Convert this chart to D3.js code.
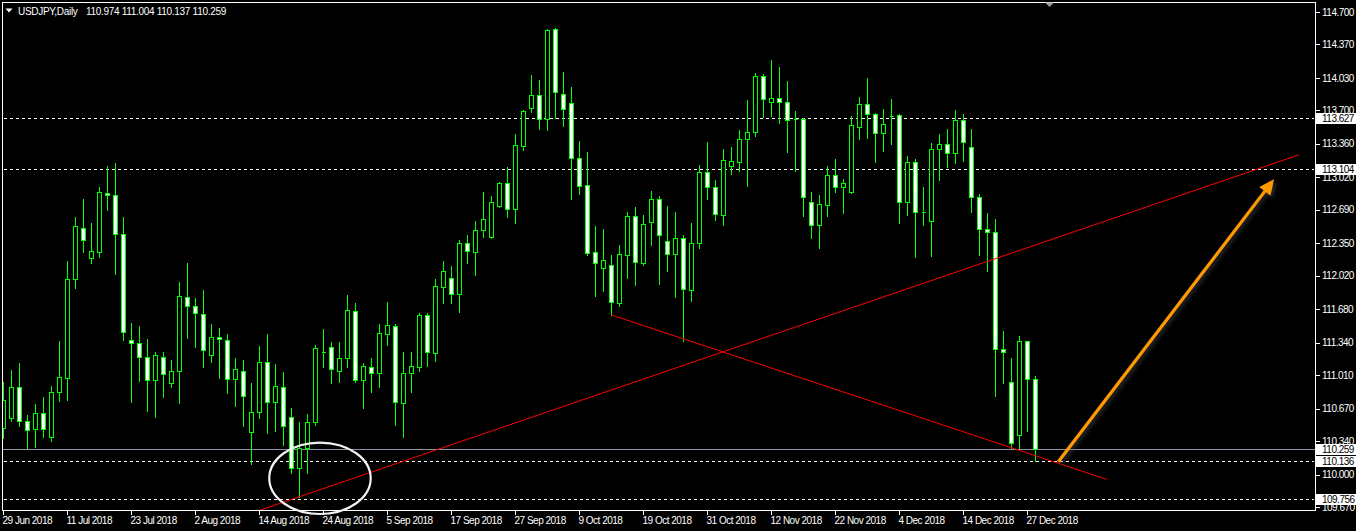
<!DOCTYPE html>
<html>
<head>
<meta charset="utf-8">
<script src="https://cdn.jsdelivr.net/npm/d3@7"></script>
<style>
  html, body { margin: 0; padding: 0; background: #000; }
  svg { display: block; }
  text { font-family: "Liberation Sans", Arial, sans-serif; font-size: 10px; letter-spacing: -0.5px; }
  text.hdr { letter-spacing: -0.3px; }
</style>
</head>
<body>
<svg id="chart" width="1356" height="531"></svg>
<script>
// ---------------- DATA ----------------
const symbol = "USDJPY,Daily";
const lastQuote = ["110.974", "111.004", "110.137", "110.259"];

const opens = [
  110.473,110.574,110.889,110.544,110.463,110.625,110.381,110.838,110.981,111.987,
  112.505,112.200,112.261,112.861,112.840,112.444,111.367,111.336,111.194,110.960,
  111.194,110.930,111.052,111.804,111.712,111.631,111.214,111.397,111.367,110.971,
  111.052,110.432,110.635,111.143,110.737,110.889,110.584,110.066,110.270,110.534,
  111.245,111.296,111.052,111.184,111.662,110.960,111.093,111.032,111.428,111.509,
  110.727,111.032,111.093,111.621,111.235,111.906,111.997,111.834,112.353,112.261,
  112.485,112.414,112.729,112.962,112.698,113.338,113.725,113.857,113.613,114.527,
  113.867,113.775,113.216,112.942,112.261,112.099,112.129,111.743,112.231,112.627,
  112.149,112.566,112.800,112.373,112.241,112.403,111.875,112.353,113.074,112.922,
  112.637,113.135,113.176,113.409,113.481,114.050,113.786,113.826,113.786,113.608,
  113.613,112.769,112.536,112.739,113.044,112.922,112.871,113.531,113.765,113.663,
  113.471,113.643,113.653,112.769,113.176,112.667,112.576,113.308,113.359,113.267,
  113.603,113.328,112.820,112.495,112.464,111.275,110.940,110.402,111.357,110.974
];
const highs = [
  110.940,111.062,111.133,110.605,110.717,110.788,110.900,111.357,112.170,112.617,
  112.800,112.556,112.922,113.135,113.166,112.617,111.540,111.509,111.377,111.245,
  111.245,111.164,111.956,112.149,111.794,111.875,111.530,111.489,111.428,111.184,
  111.164,110.930,111.306,111.428,111.123,111.042,110.676,110.534,110.615,111.316,
  111.479,111.347,111.347,111.824,111.743,111.133,111.184,111.530,111.753,111.530,
  111.245,111.245,111.641,111.641,111.987,112.170,112.119,112.383,112.434,112.576,
  112.871,112.830,112.973,113.125,113.460,113.704,114.060,114.009,114.527,114.537,
  114.090,113.938,113.389,113.277,112.525,112.495,112.231,112.332,112.667,112.718,
  112.637,112.881,112.830,112.729,112.667,112.434,112.556,113.145,113.379,112.993,
  113.308,113.328,113.501,113.806,114.080,114.070,114.212,114.141,113.999,113.694,
  113.623,112.871,112.840,113.135,113.206,113.003,113.643,113.836,114.029,113.674,
  113.714,113.816,113.660,113.237,113.206,112.922,113.369,113.460,113.511,113.704,
  113.664,113.511,112.851,112.657,112.596,111.458,111.184,111.408,111.357,111.004
];
const lows = [
  110.371,110.544,110.493,110.270,110.280,110.381,110.341,110.747,110.757,111.895,
  112.261,112.149,112.210,112.688,112.038,111.367,110.737,110.950,110.645,110.584,
  110.788,110.889,110.727,111.387,111.296,111.093,111.143,110.981,110.828,110.696,
  110.493,110.107,110.574,110.422,110.442,110.300,110.015,109.772,110.015,110.503,
  111.093,110.930,110.940,111.093,110.940,110.676,110.838,110.889,111.316,110.503,
  110.381,110.838,111.052,111.103,111.154,111.743,111.743,111.652,112.149,112.027,
  112.414,112.403,112.718,112.617,112.556,113.298,113.684,113.511,113.501,113.623,
  113.542,112.800,112.851,112.231,111.814,111.865,111.621,111.712,111.997,111.926,
  112.129,112.332,111.936,112.068,111.804,111.357,111.763,112.302,112.800,112.586,
  112.536,113.054,113.084,112.932,113.440,113.633,113.643,113.572,113.277,113.084,
  112.627,112.403,112.302,112.627,112.871,112.657,112.861,113.409,113.420,113.176,
  113.287,113.359,112.556,112.637,112.210,112.536,112.220,112.993,113.125,113.166,
  113.186,112.667,112.231,112.068,110.798,110.930,110.270,110.270,110.442,110.137
];
const closes = [
  110.757,110.889,110.544,110.452,110.625,110.463,110.838,110.991,111.987,112.525,
  112.383,112.271,112.871,112.840,112.444,111.448,111.336,111.194,110.960,111.214,
  111.021,111.052,111.814,111.712,111.641,111.265,111.397,111.377,110.971,111.072,
  110.798,110.635,111.143,110.737,110.900,110.493,110.066,110.270,110.534,111.286,
  111.250,111.072,111.184,111.672,110.960,111.103,111.032,111.438,111.519,110.737,
  111.032,111.103,111.621,111.245,111.916,112.068,111.834,112.353,112.271,112.485,
  112.596,112.769,112.962,112.698,113.349,113.694,113.857,113.613,114.517,113.887,
  113.714,113.216,112.932,112.251,112.149,112.180,111.753,112.241,112.627,112.160,
  112.546,112.800,112.434,112.241,112.403,111.885,112.353,113.074,112.922,112.647,
  113.196,113.186,113.409,113.481,114.050,113.816,113.826,113.786,113.603,113.612,
  112.820,112.536,112.749,113.044,112.922,112.962,113.552,113.765,113.663,113.471,
  113.562,113.645,112.769,113.176,112.667,112.669,113.308,113.359,113.267,113.603,
  113.379,112.820,112.495,112.464,111.275,111.245,110.320,111.357,110.971,110.259
];

// date axis labels (every 8th bar)
const dateTickIndex = [0,8,16,24,32,40,48,56,64,72,80,88,96,104,112,120,128];
const dateTickLabels = ["29 Jun 2018","11 Jul 2018","23 Jul 2018","2 Aug 2018","14 Aug 2018",
  "24 Aug 2018","5 Sep 2018","17 Sep 2018","27 Sep 2018","9 Oct 2018","19 Oct 2018",
  "31 Oct 2018","12 Nov 2018","22 Nov 2018","4 Dec 2018","14 Dec 2018","27 Dec 2018"];

// price axis labels
const priceTicks = [114.700,114.370,114.030,113.700,113.360,113.020,112.690,112.350,
  112.020,111.680,111.340,111.010,110.670,110.340,110.000,109.670];

// horizontal levels
const levelPrices = [113.627, 113.104, 110.136, 109.756];
const bidPrice = 110.259;

// annotations (bar index, price)
const trendUp = [[30, 109.580], [161.94, 113.249]];
const trendDown = [[76, 111.621], [137.9, 109.951]];
const circleMark = { idx: 39.56, price: 109.962, rBars: 6.34, rPrice: 0.363 };
const arrowMark = [[131.85, 110.130], [158.81, 113.000]];

// ---------------- DRAW ----------------
const svg = d3.select("#chart");
const W = 1356, H = 531;
const frame = { left: 2.5, top: 2.5, right: 1315.5, bottom: 510.5 };

const x = d3.scaleLinear().domain([0, 129]).range([3.5, 1035.5]);
const y = d3.scaleLinear().domain([109.67, 114.70]).range([507, 12]);

const GREEN = "#00ff00";

svg.append("rect").attr("width", W).attr("height", H).attr("fill", "#000");

const defs = svg.append("defs");
defs.append("clipPath").attr("id", "plotClip")
  .append("rect")
  .attr("x", frame.left).attr("y", frame.top)
  .attr("width", frame.right - frame.left).attr("height", frame.bottom - frame.top);
const glow = defs.append("filter").attr("id", "glow")
  .attr("x", "-20%").attr("y", "-20%").attr("width", "140%").attr("height", "140%");
glow.append("feDropShadow").attr("dx", 2).attr("dy", 2).attr("stdDeviation", 2)
  .attr("flood-color", "#555").attr("flood-opacity", 0.6);
const soft = defs.append("filter").attr("id", "soft");
soft.append("feGaussianBlur").attr("stdDeviation", 0.35);

const plot = svg.append("g").attr("clip-path", "url(#plotClip)");

// level lines
const snap = v => Math.round(v) + 0.5;
plot.append("line")
  .attr("x1", frame.left).attr("x2", frame.right)
  .attr("y1", snap(y(bidPrice))).attr("y2", snap(y(bidPrice)))
  .attr("stroke", "#8a96a3").attr("stroke-width", 1).attr("shape-rendering", "crispEdges");
plot.selectAll("line.level").data(levelPrices).join("line")
  .attr("class", "level")
  .attr("x1", frame.left + 1).attr("x2", frame.right - 2)
  .attr("y1", d => snap(y(d))).attr("y2", d => snap(y(d)))
  .attr("stroke", "#fff").attr("stroke-width", 1)
  .attr("stroke-dasharray", "3,3").attr("shape-rendering", "crispEdges");

// candles
const bars = d3.range(opens.length).map(i => ({
  i, o: opens[i], h: highs[i], l: lows[i], c: closes[i]
}));
const cg = plot.append("g").attr("shape-rendering", "crispEdges");
cg.selectAll("line.wick").data(bars).join("line")
  .attr("class", "wick")
  .attr("x1", d => x(d.i)).attr("x2", d => x(d.i))
  .attr("y1", d => Math.round(y(d.h))).attr("y2", d => Math.round(y(d.l)) + 1)
  .attr("stroke", GREEN).attr("stroke-width", 1);
cg.selectAll("path.body").data(bars).join("path")
  .attr("class", "body")
  .attr("d", d => {
    const x0 = x(d.i) - 2, x1 = x(d.i) + 2;
    const yt = snap(y(Math.max(d.o, d.c)));
    const yb = snap(y(Math.min(d.o, d.c)));
    return `M${x0},${yt}H${x1}V${yb}H${x0}Z`;
  })
  .attr("fill", d => d.c >= d.o ? "#000" : "#fff")
  .attr("stroke", GREEN).attr("stroke-width", 1);

// trend lines
const line = d3.line().x(d => x(d[0])).y(d => y(d[1]));
plot.append("path").attr("d", line(trendUp))
  .attr("fill", "none").attr("stroke", "#ff0000").attr("stroke-width", 1);
plot.append("path").attr("d", line(trendDown))
  .attr("fill", "none").attr("stroke", "#ff0000").attr("stroke-width", 1);

// frame
svg.append("rect")
  .attr("x", frame.left).attr("y", frame.top)
  .attr("width", frame.right - frame.left).attr("height", frame.bottom - frame.top)
  .attr("fill", "none").attr("stroke", "#fff").attr("stroke-width", 1)
  .attr("shape-rendering", "crispEdges");

// ellipse (drawn over frame)
const ecx = x(circleMark.idx), ecy = y(circleMark.price);
svg.append("ellipse")
  .attr("cx", ecx).attr("cy", ecy)
  .attr("rx", x(circleMark.idx + circleMark.rBars) - ecx)
  .attr("ry", y(circleMark.price - circleMark.rPrice) - ecy)
  .attr("fill", "none").attr("stroke", "#f2f2f2").attr("stroke-width", 2.2)
  .attr("filter", "url(#soft)");

// arrow
const ax0 = x(arrowMark[0][0]), ay0 = y(arrowMark[0][1]);
const ax1 = x(arrowMark[1][0]), ay1 = y(arrowMark[1][1]);
const ang = Math.atan2(ay1 - ay0, ax1 - ax0);
const headLen = 15, headHalf = 7;
const bx = ax1 - headLen * Math.cos(ang), by = ay1 - headLen * Math.sin(ang);
const ag = svg.append("g").attr("filter", "url(#glow)");
ag.append("line")
  .attr("x1", ax0).attr("y1", ay0).attr("x2", bx + 2 * Math.cos(ang)).attr("y2", by + 2 * Math.sin(ang))
  .attr("stroke", "#ff9a00").attr("stroke-width", 3.2);
ag.append("polygon")
  .attr("points", [
    [ax1, ay1],
    [bx + headHalf * Math.sin(ang), by - headHalf * Math.cos(ang)],
    [bx - headHalf * Math.sin(ang), by + headHalf * Math.cos(ang)]
  ].map(p => p.join(",")).join(" "))
  .attr("fill", "#ff9a00");

// small shift marker at top
svg.append("path").attr("d", "M1045,2.5H1054L1049.5,7Z").attr("fill", "#9a9a9a");

// header
svg.append("path").attr("d", "M5.5,8.5H12.5L9,12.5Z").attr("fill", "#fff");
svg.append("text").attr("class", "hdr").attr("x", 18).attr("y", 14.5).attr("fill", "#fff").text(symbol);
svg.append("text").attr("class", "hdr").attr("x", 86).attr("y", 14.5).attr("fill", "#fff")
  .attr("xml:space", "preserve").text(lastQuote.join(" "));

// price axis
const pa = svg.append("g");
pa.selectAll("line").data(priceTicks).join("line")
  .attr("x1", frame.right).attr("x2", frame.right + 4)
  .attr("y1", d => snap(y(d))).attr("y2", d => snap(y(d)))
  .attr("stroke", "#fff").attr("shape-rendering", "crispEdges");
pa.selectAll("text").data(priceTicks).join("text")
  .attr("x", 1322).attr("y", d => y(d) + 3.6)
  .attr("fill", "#fff").text(d => d.toFixed(3));

// highlighted level labels
const markers = levelPrices.concat([bidPrice]);
const mg = svg.append("g");
markers.forEach(p => {
  const yy = Math.round(y(p));
  mg.append("rect").attr("x", 1316).attr("y", yy - 5).attr("width", 40).attr("height", 11)
    .attr("fill", "#fff").attr("shape-rendering", "crispEdges");
  mg.append("text").attr("x", 1322).attr("y", yy + 4.2).attr("fill", "#000").text(p.toFixed(3));
});

// date axis
const da = svg.append("g");
da.selectAll("line").data(dateTickIndex).join("line")
  .attr("x1", d => x(d) - 0.5).attr("x2", d => x(d) - 0.5)
  .attr("y1", frame.bottom).attr("y2", frame.bottom + 4)
  .attr("stroke", "#fff").attr("shape-rendering", "crispEdges");
da.selectAll("text").data(dateTickIndex).join("text")
  .attr("x", d => x(d) - 1).attr("y", 523.5)
  .attr("fill", "#fff").text((d, k) => dateTickLabels[k]);
</script>
</body>
</html>
